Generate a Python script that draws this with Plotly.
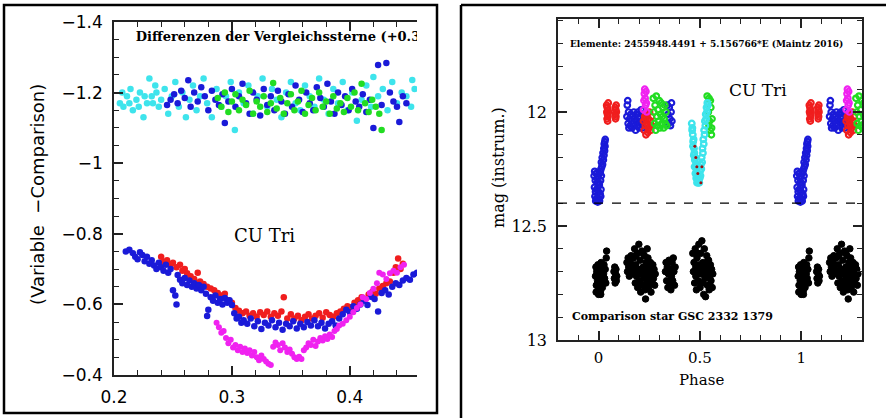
import plotly.graph_objects as go

# ---------------- data: left panel (phase, Variable - Comparison) ----------------
up_cyan = [(0.205,-1.17),(0.207,-1.20),(0.208,-1.16),(0.211,-1.19),(0.213,-1.17),(0.214,-1.21),(0.216,-1.15),
           (0.219,-1.18),(0.221,-1.16),(0.222,-1.20),(0.225,-1.13),(0.226,-1.19),(0.228,-1.17),(0.230,-1.24),
           (0.232,-1.19),(0.233,-1.17),(0.235,-1.22),(0.236,-1.20),(0.238,-1.16),(0.240,-1.18),(0.243,-1.21),
           (0.246,-1.14),(0.249,-1.19),(0.252,-1.23),(0.255,-1.16),(0.258,-1.20),(0.261,-1.13),(0.264,-1.18),
           (0.267,-1.22),(0.270,-1.15),(0.273,-1.19),(0.276,-1.24),(0.279,-1.17),(0.283,-1.13),(0.287,-1.21),
           (0.291,-1.16),(0.295,-1.19),(0.299,-1.23),(0.3025,-1.094),(0.306,-1.20),(0.310,-1.17),(0.314,-1.22),
           (0.318,-1.14),(0.322,-1.19),(0.326,-1.24),(0.330,-1.16),(0.334,-1.21),(0.338,-1.18),(0.342,-1.13),
           (0.346,-1.20),(0.350,-1.23),(0.354,-1.17),(0.358,-1.15),(0.362,-1.22),(0.366,-1.19),(0.370,-1.16),
           (0.374,-1.24),(0.378,-1.18),(0.382,-1.14),(0.386,-1.21),(0.390,-1.17),(0.394,-1.23),(0.398,-1.15),
           (0.402,-1.20),(0.406,-1.12),(0.410,-1.18),(0.414,-1.22),(0.418,-1.16),(0.420,-1.244),(0.424,-1.19),
           (0.428,-1.21),(0.432,-1.15),(0.436,-1.23),(0.440,-1.17),(0.444,-1.20),(0.448,-1.19),(0.452,-1.16),
           (0.453,-1.236),(0.455,-1.21)]

up_blue = [(0.245,-1.165),(0.248,-1.180),(0.251,-1.195),(0.254,-1.170),(0.257,-1.205),(0.260,-1.185),(0.263,-1.235),
           (0.265,-1.160),(0.268,-1.200),(0.271,-1.175),(0.274,-1.215),(0.277,-1.190),(0.280,-1.150),(0.283,-1.205),
           (0.286,-1.180),(0.289,-1.165),(0.292,-1.195),(0.294,-1.114),(0.297,-1.175),(0.300,-1.210),(0.303,-1.160),
           (0.306,-1.190),(0.309,-1.225),(0.312,-1.170),(0.315,-1.140),(0.318,-1.200),(0.321,-1.180),(0.324,-1.135),
           (0.327,-1.210),(0.330,-1.165),(0.333,-1.190),(0.336,-1.150),(0.339,-1.205),(0.342,-1.175),(0.345,-1.140),
           (0.348,-1.195),(0.351,-1.160),(0.354,-1.220),(0.357,-1.180),(0.360,-1.145),(0.363,-1.200),(0.366,-1.170),
           (0.369,-1.150),(0.372,-1.215),(0.375,-1.185),(0.378,-1.160),(0.381,-1.225),(0.384,-1.175),(0.387,-1.140),
           (0.390,-1.200),(0.393,-1.165),(0.396,-1.190),(0.399,-1.150),(0.402,-1.210),(0.405,-1.175),(0.408,-1.160),
           (0.411,-1.195),(0.414,-1.145),(0.417,-1.180),(0.420,-1.100),(0.424,-1.278),(0.427,-1.165),(0.431,-1.284),
           (0.434,-1.200),(0.437,-1.175),(0.440,-1.160),(0.442,-1.117),(0.445,-1.190),(0.448,-1.170)]

up_green = [(0.288,-1.185),(0.291,-1.160),(0.294,-1.200),(0.297,-1.145),(0.300,-1.175),(0.303,-1.195),(0.306,-1.150),
            (0.309,-1.180),(0.312,-1.165),(0.315,-1.205),(0.318,-1.140),(0.321,-1.175),(0.324,-1.160),(0.327,-1.190),
            (0.330,-1.145),(0.333,-1.170),(0.335,-1.227),(0.338,-1.155),(0.341,-1.185),(0.344,-1.140),(0.347,-1.170),
            (0.350,-1.195),(0.353,-1.150),(0.356,-1.175),(0.359,-1.205),(0.362,-1.140),(0.365,-1.165),(0.368,-1.185),
            (0.371,-1.150),(0.374,-1.200),(0.377,-1.160),(0.380,-1.175),(0.383,-1.140),(0.386,-1.190),(0.389,-1.155),
            (0.392,-1.170),(0.395,-1.145),(0.398,-1.185),(0.401,-1.160),(0.404,-1.200),(0.407,-1.150),(0.410,-1.225),
            (0.413,-1.170),(0.416,-1.145),(0.419,-1.180),(0.422,-1.160),(0.425,-1.140),(0.427,-1.094)]

lo_blue = [(0.210,-0.750),(0.213,-0.755),(0.216,-0.745),(0.218,-0.735),(0.220,-0.728),(0.222,-0.748),(0.224,-0.740),
           (0.226,-0.722),(0.228,-0.735),(0.230,-0.715),(0.232,-0.725),(0.234,-0.710),(0.236,-0.700),(0.238,-0.718),
           (0.240,-0.705),(0.242,-0.695),(0.244,-0.712),(0.246,-0.690),(0.248,-0.700),(0.250,-0.640),(0.252,-0.625),
           (0.253,-0.600),(0.254,-0.683),(0.256,-0.670),(0.258,-0.660),(0.260,-0.675),(0.262,-0.655),(0.264,-0.668),
           (0.266,-0.650),(0.268,-0.660),(0.270,-0.645),(0.272,-0.655),(0.274,-0.640),(0.276,-0.650),(0.278,-0.630),
           (0.279,-0.567),(0.280,-0.585),(0.282,-0.620),(0.284,-0.610),(0.286,-0.625),(0.288,-0.605),(0.290,-0.615),
           (0.292,-0.600),(0.294,-0.618),(0.296,-0.605),(0.298,-0.612),(0.300,-0.598),(0.302,-0.575),(0.304,-0.560),
           (0.306,-0.565),(0.308,-0.548),(0.310,-0.555),(0.313,-0.545),(0.316,-0.560),(0.319,-0.538),(0.322,-0.552),
           (0.325,-0.530),(0.328,-0.548),(0.331,-0.540),(0.334,-0.555),(0.337,-0.535),(0.340,-0.548),(0.343,-0.528),
           (0.346,-0.545),(0.349,-0.538),(0.352,-0.552),(0.355,-0.532),(0.358,-0.545),(0.361,-0.535),(0.364,-0.550),
           (0.367,-0.540),(0.370,-0.555),(0.373,-0.538),(0.376,-0.548),(0.379,-0.532),(0.382,-0.545),(0.385,-0.552),
           (0.388,-0.540),(0.391,-0.560),(0.394,-0.572),(0.397,-0.585),(0.400,-0.578),(0.403,-0.595),(0.406,-0.588),
           (0.409,-0.600),(0.412,-0.610),(0.415,-0.598),(0.418,-0.622),(0.421,-0.615),(0.424,-0.580),(0.427,-0.632),
           (0.430,-0.640),(0.433,-0.628),(0.436,-0.650),(0.439,-0.660),(0.442,-0.655),(0.445,-0.668),(0.448,-0.675),
           (0.451,-0.670),(0.454,-0.685),(0.457,-0.690)]

lo_red = [(0.240,-0.735),(0.242,-0.720),(0.245,-0.725),(0.248,-0.712),(0.250,-0.718),(0.253,-0.705),(0.256,-0.712),
          (0.258,-0.695),(0.260,-0.700),(0.262,-0.688),(0.265,-0.680),(0.268,-0.672),(0.271,-0.690),(0.273,-0.665),
          (0.276,-0.658),(0.279,-0.650),(0.282,-0.645),(0.285,-0.640),(0.288,-0.632),(0.291,-0.625),(0.294,-0.630),
          (0.297,-0.612),(0.300,-0.605),(0.303,-0.590),(0.306,-0.582),(0.309,-0.575),(0.312,-0.580),(0.315,-0.568),
          (0.318,-0.575),(0.321,-0.565),(0.324,-0.578),(0.327,-0.570),(0.330,-0.580),(0.333,-0.565),(0.336,-0.575),
          (0.339,-0.568),(0.342,-0.580),(0.344,-0.620),(0.347,-0.560),(0.350,-0.572),(0.353,-0.560),(0.356,-0.568),
          (0.359,-0.555),(0.362,-0.565),(0.365,-0.572),(0.368,-0.560),(0.371,-0.568),(0.374,-0.575),(0.377,-0.562),
          (0.380,-0.578),(0.383,-0.570),(0.386,-0.565),(0.389,-0.575),(0.392,-0.580),(0.395,-0.588),(0.398,-0.595),
          (0.401,-0.592),(0.404,-0.605),(0.407,-0.612),(0.410,-0.620),(0.413,-0.615),(0.416,-0.628),(0.419,-0.635),
          (0.422,-0.630),(0.425,-0.645),(0.428,-0.652),(0.431,-0.660),(0.434,-0.665),(0.437,-0.690),(0.439,-0.705),
          (0.441,-0.730),(0.443,-0.700),(0.445,-0.715)]

lo_magenta = [(0.287,-0.548),(0.289,-0.535),(0.291,-0.520),(0.293,-0.525),(0.295,-0.505),(0.297,-0.490),(0.299,-0.500),
              (0.301,-0.478),(0.303,-0.485),(0.305,-0.470),(0.307,-0.480),(0.309,-0.465),(0.311,-0.475),(0.313,-0.462),
              (0.315,-0.470),(0.317,-0.455),(0.319,-0.465),(0.321,-0.450),(0.323,-0.442),(0.325,-0.455),(0.327,-0.445),
              (0.329,-0.438),(0.331,-0.432),(0.333,-0.428),(0.335,-0.480),(0.337,-0.492),(0.339,-0.485),(0.341,-0.470),
              (0.343,-0.490),(0.345,-0.478),(0.347,-0.465),(0.349,-0.472),(0.351,-0.460),(0.353,-0.450),(0.355,-0.445),
              (0.357,-0.452),(0.359,-0.445),(0.361,-0.470),(0.363,-0.478),(0.365,-0.490),(0.367,-0.485),(0.369,-0.500),
              (0.371,-0.482),(0.373,-0.495),(0.375,-0.505),(0.377,-0.498),(0.379,-0.510),(0.381,-0.502),(0.383,-0.515),
              (0.385,-0.508),(0.387,-0.525),(0.389,-0.530),(0.391,-0.540),(0.394,-0.545),(0.397,-0.555),(0.400,-0.565),
              (0.403,-0.578),(0.406,-0.590),(0.409,-0.600),(0.411,-0.620),(0.414,-0.615),(0.417,-0.632),(0.420,-0.644),
              (0.423,-0.660),(0.425,-0.690),(0.428,-0.685),(0.431,-0.672),(0.434,-0.688),(0.437,-0.695),(0.440,-0.690),
              (0.443,-0.705),(0.446,-0.712)]

# ---------------- data: right panel (phase, mag) ----------------
var_blue = [(-0.022,12.28),(-0.020,12.33),(-0.018,12.37),(-0.016,12.30),(-0.014,12.39),(-0.012,12.27),(-0.010,12.34),
            (-0.008,12.38),(-0.006,12.31),(-0.004,12.395),(-0.002,12.28),(0.000,12.35),(0.002,12.38),(0.004,12.32),
            (0.006,12.27),(0.008,12.36),(0.010,12.30),(0.012,12.34),(0.014,12.28),(-0.019,12.26),(-0.015,12.35),
            (-0.007,12.29),(0.001,12.31),(0.009,12.26),(-0.011,12.38),(0.005,12.39),(-0.003,12.33),(0.011,12.37),
            (0.012,12.25),(0.014,12.22),(0.016,12.24),(0.018,12.20),(0.020,12.23),(0.022,12.18),(0.024,12.21),
            (0.026,12.16),(0.027,12.19),(0.028,12.14),(0.030,12.17),(0.031,12.13),(0.032,12.15),(0.033,12.12),
            (0.140,12.02),(0.142,11.97),(0.144,11.95),(0.146,12.05),(0.148,12.00),(0.150,12.07),(0.153,12.03),
            (0.156,12.06),(0.159,12.01),(0.162,12.04),(0.165,12.07),(0.168,12.02),(0.171,12.05),(0.174,12.00),
            (0.177,12.06),(0.180,12.03),(0.183,12.08),(0.186,12.01),(0.189,12.04),(0.192,12.06),(0.195,12.00),
            (0.198,12.03),(0.201,12.07),(0.204,12.02),(0.207,12.05),(0.210,11.99),(0.213,12.04),(0.216,12.07),
            (0.219,12.01),
            (0.340,11.97),(0.343,12.01),(0.346,12.05),(0.349,11.98),(0.352,12.03),(0.355,12.06),(0.358,12.00),
            (0.360,11.96),(0.362,12.04)]

var_red = [(0.040,11.97),(0.041,12.00),(0.042,12.03),(0.043,11.98),(0.044,12.01),(0.045,12.04),(0.046,11.99),
           (0.047,12.02),(0.048,11.96),(0.049,12.00),
           (0.082,11.98),(0.083,12.01),(0.084,12.03),(0.085,11.99),(0.086,12.02),(0.087,11.97),(0.088,12.00),
           (0.222,12.04),(0.225,12.08),(0.228,12.02),(0.231,12.06),(0.234,12.10),(0.237,12.01),(0.240,12.05),
           (0.243,12.09),(0.246,12.03),(0.249,12.07),(0.252,12.00),(0.255,12.04),(0.258,12.08),(0.261,12.02),
           (0.264,12.06),(0.230,12.03),(0.244,12.06),(0.256,12.06)]

var_magenta = [(0.222,11.99),(0.224,11.95),(0.226,11.92),(0.228,11.90),(0.230,11.94),(0.232,11.97),(0.234,11.91),
               (0.236,11.96),(0.238,12.00)]

var_green = [(0.270,11.94),(0.273,12.00),(0.276,12.05),(0.279,11.97),(0.282,12.08),(0.285,11.93),(0.288,12.02),
             (0.291,12.06),(0.294,11.99),(0.297,12.04),(0.300,11.95),(0.303,12.07),(0.306,12.01),(0.309,11.96),
             (0.312,12.05),(0.315,12.02),(0.318,11.98),(0.321,12.07),(0.324,12.03),(0.327,11.97),(0.330,12.05),
             (0.333,12.00),(0.336,12.06),
             (0.536,11.93),(0.539,11.96),(0.542,12.00),(0.545,11.94),(0.548,12.04),(0.551,12.08),(0.554,11.98),
             (0.557,12.10),(0.560,12.03),(0.545,12.06),(0.552,11.95),(0.558,12.07)]

var_cyan = [(0.460,12.05),(0.462,12.08),(0.463,12.07),(0.465,12.10),(0.466,12.15),(0.467,12.13),(0.469,12.12),
            (0.470,12.19),(0.471,12.16),(0.473,12.18),(0.474,12.24),(0.475,12.21),(0.477,12.20),(0.478,12.27),
            (0.479,12.24),(0.481,12.23),(0.482,12.29),(0.483,12.26),(0.485,12.28),(0.486,12.31),(0.487,12.27),
            (0.489,12.30),(0.491,12.29),(0.493,12.31),(0.495,12.30),(0.497,12.31),
            (0.499,12.29),(0.501,12.26),(0.503,12.28),(0.505,12.23),(0.507,12.25),(0.509,12.20),(0.511,12.22),
            (0.513,12.16),(0.515,12.18),(0.517,12.12),(0.519,12.14),(0.521,12.08),(0.523,12.10),(0.525,12.04),
            (0.527,12.06),(0.529,12.01),(0.531,12.03),(0.533,11.98),(0.535,12.00),(0.537,11.96),(0.539,11.97)]

var_darkred = [(0.475,12.15),(0.480,12.20),(0.485,12.24),(0.490,12.27),(0.505,12.31),(0.510,12.24)]

comp_black = [(-0.015,12.72),(-0.013,12.68),(-0.011,12.76),(-0.009,12.70),(-0.007,12.79),(-0.005,12.74),(-0.003,12.67),
              (-0.001,12.77),(0.001,12.71),(0.003,12.78),(0.005,12.69),(0.007,12.75),(0.009,12.72),(0.011,12.80),
              (0.013,12.66),(0.015,12.74),(0.017,12.70),(0.019,12.77),(0.021,12.68),(0.023,12.73),(0.025,12.71),
              (0.027,12.67),(0.030,12.73),(0.033,12.69),(0.036,12.75),(0.038,12.64),(0.040,12.61),(-0.012,12.79),
              (0.000,12.80),(0.010,12.785),
              (0.076,12.70),(0.078,12.73),(0.080,12.68),(0.082,12.75),(0.084,12.71),(0.086,12.69),(0.088,12.74),
              (0.090,12.72),
              (0.140,12.66),(0.143,12.70),(0.146,12.64),(0.149,12.68),(0.152,12.72),(0.155,12.65),(0.158,12.69),
              (0.161,12.63),(0.164,12.71),(0.167,12.67),(0.170,12.70),
              (0.172,12.64),(0.175,12.70),(0.178,12.60),(0.181,12.75),(0.184,12.67),(0.187,12.72),(0.190,12.62),
              (0.193,12.77),(0.196,12.69),(0.199,12.58),(0.202,12.74),(0.205,12.65),(0.208,12.79),(0.211,12.71),
              (0.214,12.61),(0.217,12.76),(0.220,12.68),(0.223,12.73),(0.226,12.63),(0.229,12.78),(0.232,12.82),
              (0.235,12.66),(0.238,12.75),(0.241,12.70),(0.244,12.64),(0.247,12.77),(0.250,12.68),(0.253,12.73),
              (0.256,12.66),(0.259,12.79),(0.262,12.71),(0.265,12.75),(0.268,12.67),(0.271,12.73),(0.274,12.69),
              (0.277,12.76),(0.280,12.71),(0.200,12.70),(0.215,12.69),(0.230,12.70),(0.245,12.72),(0.260,12.69),
              (0.190,12.70),(0.225,12.76),(0.240,12.60),(0.185,12.63),(0.205,12.76),(0.220,12.62),(0.235,12.72),
              (0.250,12.75),(0.265,12.68),
              (0.330,12.70),(0.333,12.66),(0.336,12.74),(0.339,12.68),(0.342,12.77),(0.345,12.71),(0.348,12.65),
              (0.351,12.75),(0.354,12.69),(0.357,12.78),(0.360,12.72),(0.363,12.66),(0.366,12.74),(0.369,12.64),
              (0.372,12.70),(0.375,12.76),(0.378,12.68),
              (0.465,12.62),(0.468,12.70),(0.471,12.66),(0.474,12.75),(0.477,12.60),(0.480,12.72),(0.483,12.78),
              (0.486,12.64),(0.489,12.69),(0.492,12.74),(0.495,12.58),(0.498,12.67),(0.501,12.77),(0.504,12.62),
              (0.507,12.71),(0.510,12.565),(0.513,12.75),(0.516,12.66),(0.519,12.80),(0.522,12.60),(0.525,12.73),
              (0.528,12.81),(0.531,12.68),(0.534,12.63),(0.537,12.76),(0.540,12.70),(0.543,12.65),(0.546,12.78),
              (0.549,12.72),(0.552,12.67),(0.555,12.74),(0.558,12.69),(0.561,12.77),(0.564,12.71),(0.500,12.70),
              (0.515,12.70),(0.530,12.72),(0.480,12.68),(0.545,12.70),(0.520,12.68),(0.490,12.62),(0.505,12.75),
              (0.535,12.66),(0.550,12.76),(0.475,12.70)]

ephem_text = "Elemente: 2455948.4491 + 5.156766*E (Maintz 2016)"
left_note = "Differenzen der Vergleichssterne (+0.3 mag)"
comp_text = "Comparison star GSC 2332 1379"

# ---------------- figure ----------------
W, H = 886, 418
def fx(p): return p / W
def fy(p): return 1 - p / H

fig = go.Figure()

def add(series, color, xa, ya, size, symbol="circle", lw=0, fold=False, lcolor=None):
    xs = [p[0] for p in series]
    ys = [p[1] for p in series]
    if fold:  # phase diagram: repeat the same points one cycle later
        xs = xs + [x + 1 for x in xs]
        ys = ys + ys
    fig.add_trace(go.Scatter(x=xs, y=ys, mode="markers", xaxis=xa, yaxis=ya,
                             marker=dict(color=color, size=size, symbol=symbol,
                                         line=dict(width=lw, color=lcolor or color)),
                             showlegend=False, hoverinfo="skip", cliponaxis=True))

BLUE, CYAN, GREEN, RED, MAG = "#1a1ad8", "#3ee4ec", "#22dc22", "#f01e1e", "#f022f0"

add(up_cyan, CYAN, "x", "y", 6.5)
add(up_blue, BLUE, "x", "y", 6.5)
add(up_green, GREEN, "x", "y", 6.5)
add(lo_red, RED, "x", "y", 6.5)
add(lo_blue, BLUE, "x", "y", 6.5)
add(lo_magenta, MAG, "x", "y", 6)

add(var_blue, BLUE, "x2", "y2", 5.5, "circle-open", 2.2, True)
add(var_red, RED, "x2", "y2", 5.5, "circle-open", 2.2, True)
add(var_magenta, MAG, "x2", "y2", 5.5, "circle-open", 2.2, True)
add(var_green, GREEN, "x2", "y2", 5.5, "circle-open", 2.2, True)
add(var_cyan, CYAN, "x2", "y2", 5.5, "circle-open", 2.4, True)
add(var_darkred, "#a01010", "x2", "y2", 3, "circle", 0, True)
add(comp_black, "black", "x2", "y2", 6.5, "circle", 1, True)

# clipped note inside left plot
fig.add_trace(go.Scatter(x=[0.2185], y=[-1.355], mode="text", text=[left_note], textposition="middle right",
                         textfont=dict(family="DejaVu Serif", size=13, color="black", weight="bold"),
                         xaxis="x", yaxis="y", showlegend=False, hoverinfo="skip", cliponaxis=True))

AX = "#222222"
common = dict(showline=True, linecolor=AX, linewidth=1.5, ticks="inside", ticklen=9, tickwidth=1.5,
              tickcolor=AX, showgrid=False, zeroline=False)
sans = dict(family="DejaVu Sans", size=17, color="black")
serif = dict(family="DejaVu Serif", size=16, color="black")
serif_x = dict(family="DejaVu Serif", size=15, color="black")

fig.update_layout(
    width=W, height=H, margin=dict(l=0, r=0, t=0, b=0, autoexpand=False),
    paper_bgcolor="white", plot_bgcolor="white", showlegend=False,
    xaxis=dict(domain=[fx(114), fx(417)], range=[0.2, 0.457], anchor="y", dtick=0.1, tick0=0.2,
               mirror="ticks", tickfont=sans, ticklabelstandoff=6,
               minor=dict(dtick=0.02, tick0=0.2, ticks="inside", ticklen=5, tickwidth=1.2, tickcolor=AX),
               **common),
    yaxis=dict(domain=[fy(375), fy(22)], range=[-0.4, -1.4], anchor="x", dtick=0.2, tick0=-1.4,
               tickfont=sans, ticklabelstandoff=6,
               minor=dict(dtick=0.05, tick0=-1.4, ticks="inside", ticklen=5, tickwidth=1.2, tickcolor=AX),
               **common),
    xaxis2=dict(domain=[fx(558), fx(862)], range=[-0.2, 1.3], anchor="y2", dtick=0.5, tick0=0,
                mirror="ticks", tickfont=serif_x, ticklabelstandoff=3,
                minor=dict(dtick=0.1, tick0=0, ticks="inside", ticklen=5, tickwidth=1.2, tickcolor=AX),
                **common),
    yaxis2=dict(domain=[fy(340), fy(19)], range=[13, 11.592], anchor="x2", dtick=0.5, tick0=12,
                mirror="ticks", tickfont=serif, ticklabelstandoff=6,
                minor=dict(dtick=0.1, tick0=12, ticks="inside", ticklen=5, tickwidth=1.2, tickcolor=AX),
                **common),
)

fig.add_shape(type="line", xref="x2 domain", yref="y2", x0=0, x1=1, y0=12.4, y1=12.4,
              line=dict(color="black", width=1.2, dash="dash"))

# panel frames
fig.add_shape(type="rect", xref="paper", yref="paper", x0=fx(4), x1=fx(437), y0=fy(413), y1=fy(5),
              line=dict(color="black", width=2.5))
fig.add_shape(type="line", xref="paper", yref="paper", x0=fx(461), x1=fx(886), y0=fy(5), y1=fy(5),
              line=dict(color="black", width=2.5))
fig.add_shape(type="line", xref="paper", yref="paper", x0=fx(461), x1=fx(461), y0=fy(5), y1=fy(418),
              line=dict(color="black", width=2.5))

def note(text, x, y, font, angle=0):
    fig.add_annotation(text=text, xref="paper", yref="paper", x=fx(x), y=fy(y), showarrow=False,
                       xanchor="center", yanchor="middle", textangle=angle, font=font)

note("(Variable  −Comparison)", 38, 195, dict(family="DejaVu Sans", size=18, color="black"), -90)
note("CU Tri", 264, 235, dict(family="DejaVu Serif", size=18, color="black"))
note("CU Tri", 758, 90, dict(family="DejaVu Serif", size=17, color="black"))
note(ephem_text, 706, 44, dict(family="DejaVu Serif", size=9, color="black", weight="bold"))
note(comp_text, 672, 316, dict(family="DejaVu Serif", size=11, color="black", weight="bold"))
note("Phase", 701, 380, dict(family="DejaVu Serif", size=15, color="black"))
note("mag (instrum.)", 498, 167, dict(family="DejaVu Serif", size=16, color="black"), -90)

fig.write_html("out.html", config={"responsive": False},
               post_script="document.documentElement.style.margin='0';document.body.style.margin='0';"
                           "document.body.style.padding='0';document.body.style.overflow='hidden';")
